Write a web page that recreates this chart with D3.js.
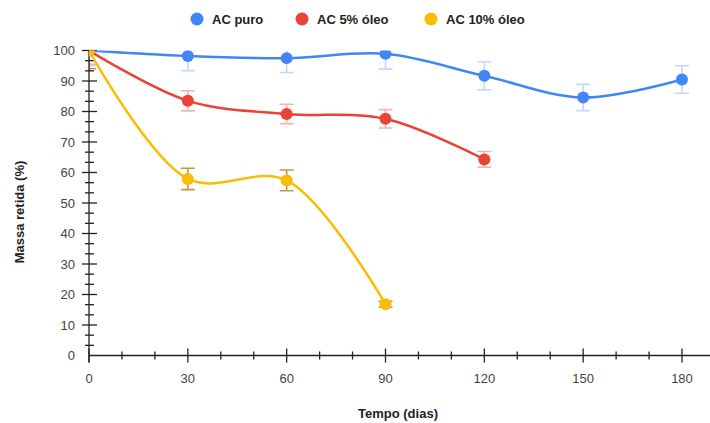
<!DOCTYPE html>
<html><head><meta charset="utf-8">
<script src="https://cdn.jsdelivr.net/npm/d3@7"></script>
<style>body{margin:0;background:#fff}svg{display:block;font-family:"Liberation Sans",Arial,sans-serif}</style>
</head><body>
<svg id="c" width="710" height="423"></svg>
<script>
const days = [0, 30, 60, 90, 120, 150, 180];
const seriesNames = ["AC puro", "AC 5% óleo", "AC 10% óleo"];
const acPuro = [100, 98.2, 97.5, 98.9, 91.7, 84.6, 90.5];
const acPuroErr = [5, 4.8, 4.7, 5, 4.6, 4.3, 4.5];
const ac5 = [100, 83.5, 79.2, 77.6, 64.3];
const ac5Err = [4.5, 3.3, 3.2, 3.0, 2.6];
const ac10 = [100, 57.9, 57.4, 16.8];
const ac10Err = [6, 3.5, 3.4, 1.0];
const colors = ["#4285f4", "#ea4335", "#fbbc04"];
const errColors = ["#c3d7fb", "#f6b3ad", "#bf9a3a"];
const xTicks = [0, 30, 60, 90, 120, 150, 180];
const yTicks = [0, 10, 20, 30, 40, 50, 60, 70, 80, 90, 100];

const svg = d3.select("#c");
const x = d3.scaleLinear().domain([0, 180]).range([89, 682]);
const y = d3.scaleLinear().domain([0, 100]).range([355.5, 50.5]);

const series = [acPuro, ac5, ac10].map((vals, i) => ({
  name: seriesNames[i], color: colors[i], ecolor: errColors[i],
  pts: vals.map((v, j) => ({d: days[j], v, e: [acPuroErr, ac5Err, ac10Err][i][j]}))
}));

svg.append("clipPath").attr("id","clip").append("rect")
  .attr("x", x(0)).attr("y", y(100)).attr("width", 710 - x(0)).attr("height", y(0)-y(100)+10);

const plot = svg.append("g").attr("clip-path","url(#clip)");
// error bars
series.forEach(s => {
  s.pts.forEach(p => {
    const g = plot.append("g").attr("stroke", s.ecolor).attr("stroke-width", 1.6).attr("fill","none");
    g.append("line").attr("x1", x(p.d)).attr("x2", x(p.d)).attr("y1", y(p.v - p.e)).attr("y2", y(p.v + p.e));
    [p.v - p.e, p.v + p.e].forEach(v => g.append("line").attr("x1", x(p.d)-7).attr("x2", x(p.d)+7).attr("y1", y(v)).attr("y2", y(v)));
  });
});

// axes
const ax = svg.append("g").attr("stroke", "#222").attr("stroke-width", 1.3);
ax.append("line").attr("x1", x(0)).attr("x2", 710).attr("y1", y(0)).attr("y2", y(0));
ax.append("line").attr("x1", x(0)).attr("x2", x(0)).attr("y1", y(100)).attr("y2", y(0)+7);
d3.range(0, 190, 10).forEach(d => {
  const major = d % 30 === 0;
  ax.append("line").attr("x1", x(d)).attr("x2", x(d))
    .attr("y1", y(0) - (major ? 7 : 4)).attr("y2", y(0) + (major ? 7 : 4));
});
d3.range(0, 101, 10/3).forEach(v => {
  const major = Math.abs(v/10 - Math.round(v/10)) < 1e-6;
  if (v === 0) return;
  ax.append("line").attr("y1", y(v)).attr("y2", y(v))
    .attr("x1", x(0) - (major ? 7 : 4)).attr("x2", x(0) + (major ? 8 : 5));
});

svg.append("g").selectAll("text").data(yTicks).join("text")
  .attr("x", 75).attr("y", d => y(d) + 4.5).attr("text-anchor", "end")
  .attr("font-size", 13).attr("fill", "#444").text(d => d);
svg.append("g").selectAll("text").data(xTicks).join("text")
  .attr("x", d => x(d)).attr("y", 383).attr("text-anchor", "middle")
  .attr("font-size", 13).attr("fill", "#444").text(d => d);

// lines
const plot2 = svg.append("g").attr("clip-path","url(#clip)");
const line = d3.line().x(p => x(p.d)).y(p => y(p.v)).curve(d3.curveCatmullRom.alpha(0.5));
series.forEach(s => {
  plot2.append("path").attr("d", line(s.pts)).attr("fill","none")
    .attr("stroke", s.color).attr("stroke-width", 2.5);
});
series.forEach(s => {
  plot2.append("g").selectAll("circle").data(s.pts).join("circle")
    .attr("cx", p => x(p.d)).attr("cy", p => y(p.v)).attr("r", 6).attr("fill", s.color);
});

// legend
const legX = [197, 302, 431];
series.forEach((s, i) => {
  svg.append("circle").attr("cx", legX[i]).attr("cy", 19).attr("r", 6.5).attr("fill", s.color);
  svg.append("text").attr("x", legX[i] + 15).attr("y", 24).attr("font-size", 13)
    .attr("font-weight", "bold").attr("fill", "#222").text(s.name);
});

svg.append("text").attr("x", 398).attr("y", 418).attr("text-anchor","middle")
  .attr("font-size", 13).attr("font-weight","bold").attr("fill","#222").text("Tempo (dias)");
svg.append("text").attr("transform", "translate(24,212) rotate(-90)").attr("text-anchor","middle")
  .attr("font-size", 13).attr("font-weight","bold").attr("fill","#222").text("Massa retida (%)");
</script>
</body></html>
